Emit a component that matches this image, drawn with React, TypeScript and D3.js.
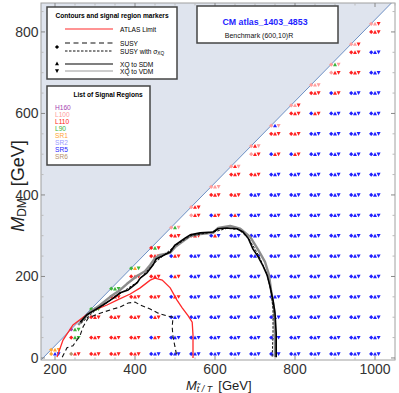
import * as d3 from 'd3';

// Signal regions: legend order, colours and one-letter codes used in the grid below
const SR_NAMES = ['H160', 'L100', 'L110', 'L90', 'SR1', 'SR2', 'SR5', 'SR6'];
const SR_COLORS = ['#a43fb0', '#ff9c9c', '#ff2020', '#3cb43c', '#ffa333', '#9a9aff', '#1f1fff', '#b68f6c'];
const SR_CODES = ['H', 'P', 'R', 'G', 'O', 'L', 'B', 'S'];

// Grid of benchmark points. For each M_T column: best SR per row
// (rows at M_DM = 10, 50, 100, ... , M_T-200), three letters = SUSY / XQ->SDM / XQ->VDM
const massT = [200, 250, 300, 350, 400, 450, 500, 550, 600, 650, 700, 750, 800, 850, 900, 950, 1000];
const gridCodes = [
  'OBB',
  'SRR RGG',
  'RRR RRR RRR',
  'RRR RRR RRR RRR',
  'RRR RRR RRR RRR RRR',
  'BBB BRR BRR RRR RRR RRR',
  'BBB BBB BBB BRR BRR BRR RRR',
  'BBB BBB BBB BBB BBB BBB RRR PRR',
  'BBB BBB BBB BBB BBB BBB BRB BRR RRR',
  'BBB BBB BBB BBB BBB BBB BBB BRB RRR RRR',
  'BBB BBB BBB BBB BBB BBB BBB BBB BBB RRR PRR',
  'BBB BBB BBB BBB BBB BBB BBB BBB BBB BBB BRR RRR',
  'BBB BBB BBB BBB BBB BBB BBB BBB BBB BBB BRR RRR RRR',
  'BBB BBB BBB BBB BBB BBB BBB BBB BBB BBB BBB BBB BRR RRR',
  'BBB BBB BBB BBB BBB BBB BBB BBB BBB BBB BBB BBB BBB BRR PRR',
  'BBB BBB BBB BBB BBB BBB BBB BBB BBB BBB BBB BBB BBB BBB RRR RRR',
  'BBB BBB BBB BBB BBB BBB BBB BBB BBB BBB BBB BBB BBB BBB BBB BBB RRR',
];
// extra points right at the kinematic edge (M_DM = M_T - 180)
const edgeCodes = ['OOO', 'HGG', 'GGG', 'GGG', 'GOG', 'RGR', 'PGP', 'PRR', 'PPP', 'PRP', 'PRP', 'PBP', 'PPR', 'PPP', 'PGP', 'PPR', 'PPR'];
const EDGE_GAP = 180;

// Contours, [M_T, M_DM]
const atlasLimit: [number, number][] = [
  [205, 2], [220, 44], [245, 81], [268, 98], [288, 113], [330, 130], [355, 142], [388, 157],
  [413, 172], [438, 191], [450, 196], [468, 191], [488, 172], [505, 142], [518, 123],
  [533, 103], [543, 88], [545, 56], [545, 0],
];
const susy: [number, number][] = [
  [218, 2], [230, 25], [245, 30], [263, 56], [270, 76], [283, 98], [308, 108], [338, 118],
  [363, 125], [383, 135], [400, 137], [413, 130], [438, 120], [458, 110], [480, 103],
  [495, 100], [493, 76], [495, 52], [500, 27], [505, 2],
];
const susyXQ: [number, number][] = [
  [265, 85], [300, 116], [345, 146], [405, 186], [445, 230], [500, 275], [540, 300],
  [600, 310], [630, 318], [660, 315], [685, 292], [710, 250], [730, 205], [740, 165],
  [745, 120], [745, 60], [743, 2],
];
const xqSDM: [number, number][] = [
  [263, 88], [280, 106], [300, 118], [320, 130], [343, 145], [363, 160], [383, 167],
  [405, 184], [413, 196], [430, 209], [445, 228], [453, 243], [468, 250], [488, 260],
  [500, 277], [525, 294], [538, 302], [563, 307], [595, 309], [608, 317], [630, 319],
  [655, 317], [670, 309], [683, 294], [695, 267], [708, 248], [720, 226], [730, 204],
  [738, 174], [745, 142], [750, 110], [753, 61], [753, 2],
];
const xqVDM: [number, number][] = [
  [258, 81], [288, 113], [313, 130], [338, 150], [363, 167], [380, 182], [405, 201],
  [425, 213], [438, 228], [450, 245], [463, 253], [488, 258], [500, 272], [518, 285],
  [538, 299], [563, 304], [595, 307], [608, 319], [638, 324], [663, 317], [688, 297],
  [708, 265], [725, 236], [735, 204], [740, 167], [748, 118], [750, 61], [750, 2],
];

const xMajor = [200, 400, 600, 800, 1000];
const yMajor = [0, 200, 400, 600, 800];

const W = 399;
const H = 393;
const PLOT = { left: 41, right: 395, top: 3, bottom: 360 };
const FONT = "'Liberation Sans', Arial, sans-serif";

const x = d3.scaleLinear().domain([165, 1050]).range([PLOT.left, PLOT.right]);
const y = d3.scaleLinear().domain([-5, 871]).range([PLOT.bottom, PLOT.top]);

const colorOf = (c: string) => SR_COLORS[SR_CODES.indexOf(c)] ?? '#000';

const DIAMOND = 'M-3.8,-2.1L-1.7,0L-3.8,2.1L-5.9,0Z';
const UP = 'M0,-2L2,1.7L-2,1.7Z';
const DOWN = 'M1.6,-1.7L5.6,-1.7L3.6,2Z';

function Marker({ cx, cy, codes }: { cx: number; cy: number; codes: string }) {
  return (
    <g transform={`translate(${cx},${cy})`}>
      <path d={DIAMOND} fill={colorOf(codes[0])} />
      <path d={UP} fill={colorOf(codes[1])} />
      <path d={DOWN} fill={colorOf(codes[2])} />
    </g>
  );
}

const line = d3.line<[number, number]>().x((d) => x(d[0])).y((d) => y(d[1]));

export default function App() {
  const points: { mt: number; mdm: number; codes: string }[] = [];
  massT.forEach((mt, i) => {
    gridCodes[i].split(' ').forEach((codes, j) => {
      points.push({ mt, mdm: j === 0 ? 10 : 50 * j, codes });
    });
    points.push({ mt, mdm: mt - EDGE_GAP, codes: edgeCodes[i] });
  });

  const xMinor = d3.range(200, 1051, 50).filter((v) => !xMajor.includes(v));
  const yMinor = d3.range(0, 871, 50).filter((v) => !yMajor.includes(v));

  // shaded region above M_DM = M_T - 170
  const shade: [number, number][] = [[165, -5], [1050, 880], [165, 880]];

  return (
    <div style={{ position: 'fixed', left: 0, top: 0 }}>
      <svg width={W} height={H} style={{ display: 'block', fontFamily: FONT }}>
        <defs>
          <clipPath id="plot">
            <rect x={PLOT.left} y={PLOT.top} width={PLOT.right - PLOT.left} height={PLOT.bottom - PLOT.top} />
          </clipPath>
        </defs>
        <rect width={W} height={H} fill="#fff" />

        <g clipPath="url(#plot)">
          <path d={line(shade) + 'Z'} fill="#dfe4ee" />
          <path d={line([[165, -5], [1050, 880]]) ?? ''} stroke="#6d8fc4" strokeWidth={1} fill="none" />

          {points.map((p, i) => (
            <Marker key={i} cx={x(p.mt)} cy={y(p.mdm)} codes={p.codes} />
          ))}

          <path d={line(atlasLimit) ?? ''} fill="none" stroke="#ff2a2a" strokeWidth={1.3} />
          <path d={line(susy) ?? ''} fill="none" stroke="#111" strokeWidth={1.1} strokeDasharray="4.5,3" />
          <path d={line(xqVDM) ?? ''} fill="none" stroke="#8c8c8c" strokeWidth={2.4} strokeLinejoin="round" />
          <path d={line(susyXQ) ?? ''} fill="none" stroke="#111" strokeWidth={1} strokeDasharray="2.5,1.5" />
          <path d={line(xqSDM) ?? ''} fill="none" stroke="#000" strokeWidth={1.6} strokeLinejoin="round" />
        </g>

        {/* frame */}
        <rect x={PLOT.left} y={PLOT.top} width={PLOT.right - PLOT.left} height={PLOT.bottom - PLOT.top}
          fill="none" stroke="#a0a0a0" strokeWidth={1} />
        {xMajor.map((v) => (
          <g key={'xM' + v}>
            <line x1={x(v)} x2={x(v)} y1={PLOT.bottom} y2={PLOT.bottom - 4} stroke="#888" />
            <line x1={x(v)} x2={x(v)} y1={PLOT.top} y2={PLOT.top + 4} stroke="#888" />
            <text x={x(v)} y={373.5} textAnchor="middle" fontSize={14} fill="#333">{v}</text>
          </g>
        ))}
        {xMinor.map((v) => (
          <g key={'xm' + v}>
            <line x1={x(v)} x2={x(v)} y1={PLOT.bottom} y2={PLOT.bottom - 2.5} stroke="#bbb" />
            <line x1={x(v)} x2={x(v)} y1={PLOT.top} y2={PLOT.top + 2.5} stroke="#bbb" />
          </g>
        ))}
        {yMajor.map((v) => (
          <g key={'yM' + v}>
            <line x1={PLOT.left} x2={PLOT.left + 4} y1={y(v)} y2={y(v)} stroke="#888" />
            <line x1={PLOT.right} x2={PLOT.right - 4} y1={y(v)} y2={y(v)} stroke="#888" />
            <text x={38.5} y={y(v) + 5} textAnchor="end" fontSize={14} fill="#333">{v}</text>
          </g>
        ))}
        {yMinor.map((v) => (
          <g key={'ym' + v}>
            <line x1={PLOT.left} x2={PLOT.left + 2.5} y1={y(v)} y2={y(v)} stroke="#bbb" />
            <line x1={PLOT.right} x2={PLOT.right - 2.5} y1={y(v)} y2={y(v)} stroke="#bbb" />
          </g>
        ))}

        {/* axis titles */}
        <text x={186} y={389.5} fontSize={13} fill="#222">
          <tspan fontStyle="italic">M</tspan>
          <tspan fontSize={9} dy={2.5} fontStyle="italic">{'t\u0303 / T'}</tspan>
          <tspan dy={-2.5} dx={6}>[GeV]</tspan>
        </text>
        <text transform="translate(23.5,186) rotate(-90)" textAnchor="middle" fontSize={18} fill="#222">
          <tspan fontStyle="italic">M</tspan>
          <tspan fontSize={12} dy={2}>DM</tspan>
          <tspan dy={-2} dx={12}>[GeV]</tspan>
        </text>

        {/* legend: contours and markers */}
        <rect x={47} y={7} width={130} height={72} fill="#fff" stroke="#444" strokeWidth={1.5} />
        <text x={112} y={17.5} textAnchor="middle" fontSize={6.6} fontWeight="bold">Contours and signal region markers</text>
        <line x1={65} x2={113} y1={29} y2={29} stroke="#ff2a2a" strokeWidth={1.2} />
        <text x={120} y={31.5} fontSize={6.6}>ATLAS Limit</text>
        <line x1={65} x2={113} y1={43} y2={43} stroke="#111" strokeWidth={1.1} strokeDasharray="5,3.5" />
        <text x={120} y={45.5} fontSize={6.6}>SUSY</text>
        <line x1={65} x2={113} y1={51} y2={51} stroke="#111" strokeWidth={1} strokeDasharray="2.5,1.5" />
        <text x={120} y={53.5} fontSize={6.6}>
          SUSY with σ<tspan fontSize={4.8} dy={1.5}>XQ</tspan>
        </text>
        <path d={DIAMOND} transform="translate(60.8,47)" fill="#000" />
        <line x1={65} x2={113} y1={64} y2={64} stroke="#000" strokeWidth={1.1} />
        <text x={120} y={66.5} fontSize={6.6}>XQ to SDM</text>
        <line x1={65} x2={113} y1={71} y2={71} stroke="#999" strokeWidth={1} />
        <text x={120} y={73.5} fontSize={6.6}>XQ to VDM</text>
        <path d={UP} transform="translate(57,63.5)" fill="#000" />
        <path d={DOWN} transform="translate(53.4,71)" fill="#000" />

        {/* legend: signal regions */}
        <rect x={47} y={86} width={103} height={79} fill="#fff" stroke="#444" strokeWidth={1.5} />
        <text x={108} y={96.5} textAnchor="middle" fontSize={6.6} fontWeight="bold">List of Signal Regions</text>
        {SR_NAMES.map((name, i) => (
          <text key={name} x={55} y={109.5 + i * 7.1} fontSize={6.6} fill={SR_COLORS[i]}>{name}</text>
        ))}

        {/* benchmark box */}
        <rect x={197} y={6} width={141} height={37} fill="#fff" stroke="#444" strokeWidth={1.5} />
        <text x={265} y={25} textAnchor="middle" fontSize={8.8} fontWeight="bold" fill="#1f1fff">CM atlas_1403_4853</text>
        <text x={259} y={37.5} textAnchor="middle" fontSize={7} fill="#111">Benchmark (600,10)R</text>
      </svg>
    </div>
  );
}
